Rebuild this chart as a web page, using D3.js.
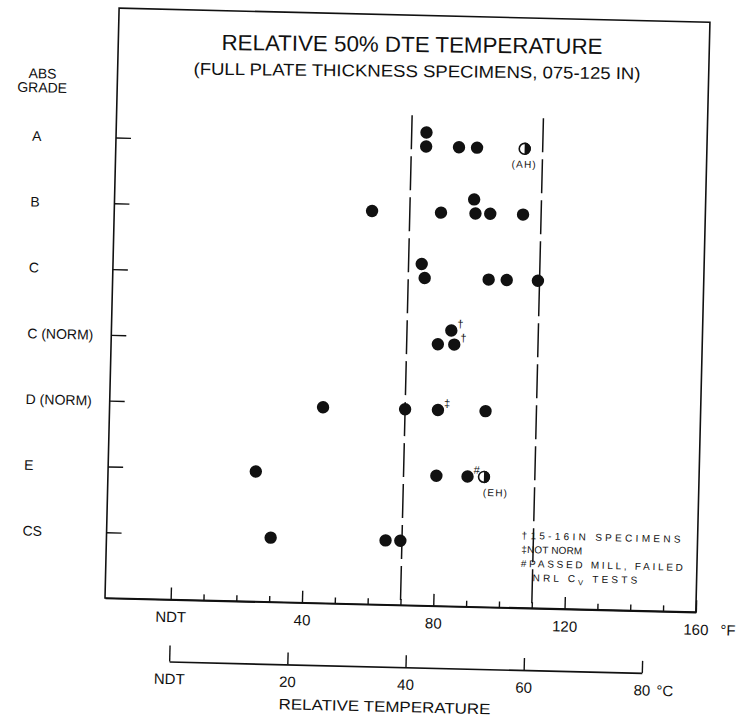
<!DOCTYPE html>
<html>
<head>
<meta charset="utf-8">
<script src="https://cdn.jsdelivr.net/npm/d3@7"></script>
<style>
  html, body { margin: 0; padding: 0; background: #fff; }
  svg { display: block; font-family: "Liberation Sans", Arial, sans-serif; }
</style>
</head>
<body>
<svg id="chart" width="740" height="719"></svg>
<script>
// ---- data ----
const grades = ["A", "B", "C", "C (NORM)", "D (NORM)", "E", "CS"];

const fMajorTicks = [0, 40, 80, 120, 160];
const fMajorLabels = ["NDT", "40", "80", "120", "160"];
const fMinorTicks = [10, 20, 30, 50, 60, 70, 90, 100, 110, 130, 140, 150];
const cTicks = [0, 20, 40, 60, 80];
const cTickLabels = ["NDT", "20", "40", "60", "80"];
const bandLimitsF = [70, 110];

// one entry per specimen: grade, relative 50% DTE temperature (°F above NDT),
// marker type and footnote symbol
const pointGrade = [
  "A", "A", "A", "A", "A",
  "B", "B", "B", "B", "B", "B",
  "C", "C", "C", "C", "C",
  "C (NORM)", "C (NORM)", "C (NORM)",
  "D (NORM)", "D (NORM)", "D (NORM)", "D (NORM)",
  "E", "E", "E", "E",
  "CS", "CS", "CS"
];
const pointTempF = [
  74.5, 84.5, 90, 104.5, 74.5,
  58.5, 79.5, 90, 94.5, 104.5, 89.5,
  75, 94.5, 100, 109.5, 74,
  79.5, 84.5, 83.5,
  45, 70, 80, 94.5,
  25, 80, 89.5, 94.5,
  30, 65, 69.5
];
const pointKind = [
  "solid", "solid", "solid", "half", "solid",
  "solid", "solid", "solid", "solid", "solid", "solid",
  "solid", "solid", "solid", "solid", "solid",
  "solid", "solid", "solid",
  "solid", "solid", "solid", "solid",
  "solid", "solid", "solid", "half",
  "solid", "solid", "solid"
];
const pointNote = [
  "", "", "", "(AH)", "",
  "", "", "", "", "", "",
  "", "", "", "", "",
  "", "\u2020", "\u2020",
  "", "", "\u2021", "",
  "", "", "#", "(EH)",
  "", "", ""
];

const footnoteLines = [
  "\u202015-16IN SPECIMENS",
  "\u2021NOT NORM",
  "#PASSED MILL, FAILED"
];

// ---- drawing ----
const svg = d3.select("#chart");
const W = 591, H = 590;

// the whole plate sits slightly turned, as on the original sheet
const g = svg.append("g")
  .attr("transform", "translate(105,598) rotate(1.37) translate(0,-590)");

const x = d3.scaleLinear().domain([-20, 160]).range([0, W]);
const y = d3.scalePoint().domain(grades).range([129.4, 524.2]);
const xc = d3.scaleLinear().domain([0, 80]).range([x(0), x(80 * 9 / 5)]);

const ink = "#111";

// frame
g.append("rect")
  .attr("x", 0).attr("y", 0).attr("width", W).attr("height", H)
  .attr("fill", "none").attr("stroke", ink).attr("stroke-width", 1.6);

// °F axis (ticks pointing into the plot)
const fAxis = g.append("g").attr("transform", `translate(0,${H})`)
  .call(d3.axisBottom(x).tickValues(fMajorTicks).tickSizeInner(-12).tickSizeOuter(0)
    .tickPadding(12).tickFormat((d, i) => fMajorLabels[i]));
const fMinor = g.append("g").attr("transform", `translate(0,${H})`)
  .call(d3.axisBottom(x).tickValues(fMinorTicks).tickSizeInner(-6).tickSizeOuter(0).tickFormat(""));
fMinor.select(".domain").remove();
[fAxis, fMinor].forEach(a => {
  a.select(".domain").attr("stroke", ink).attr("stroke-width", 1.6);
  a.selectAll(".tick line").attr("stroke", ink).attr("stroke-width", 1.4);
});
fAxis.selectAll(".tick text")
  .attr("font-size", 15).attr("fill", ink).attr("font-family", "Liberation Sans, Arial, sans-serif");
g.append("text")
  .attr("x", x(160) + 25).attr("y", H + 12 + 15 * 0.71)
  .attr("font-size", 15).attr("fill", ink).text("\u00B0F");

// °C axis
const cAxis = g.append("g").attr("transform", `translate(0,${H + 62})`)
  .call(d3.axisBottom(xc).tickValues(cTicks).tickSizeInner(-12).tickSizeOuter(0)
    .tickPadding(12).tickFormat((d, i) => cTickLabels[i]));
cAxis.select(".domain").attr("stroke", ink).attr("stroke-width", 1.6);
cAxis.selectAll(".tick line").attr("stroke", ink).attr("stroke-width", 1.4)
  .attr("y2", d => d === 0 ? -16 : -12);
cAxis.selectAll(".tick text")
  .attr("font-size", 15).attr("fill", ink).attr("font-family", "Liberation Sans, Arial, sans-serif");
g.append("text")
  .attr("x", xc(80) + 15).attr("y", H + 62 + 12 + 15 * 0.71)
  .attr("font-size", 15).attr("fill", ink).text("\u00B0C");
g.append("text")
  .attr("x", (xc(0) + xc(80)) / 2 - 20).attr("y", H + 107)
  .attr("text-anchor", "middle").attr("font-size", 15).attr("fill", ink)
  .attr("textLength", 212).attr("lengthAdjust", "spacingAndGlyphs")
  .text("RELATIVE TEMPERATURE");

// grade axis: short ticks inside the left border, labels on the far left
const gAxis = g.append("g")
  .call(d3.axisLeft(y).tickSizeInner(-15).tickSizeOuter(0).tickPadding(0));
gAxis.select(".domain").remove();
gAxis.selectAll(".tick line").attr("stroke", ink).attr("stroke-width", 1.4);
gAxis.selectAll(".tick text")
  .attr("x", -84).attr("dy", "0.34em").attr("text-anchor", "start")
  .attr("font-size", 14).attr("fill", ink).attr("font-family", "Liberation Sans, Arial, sans-serif");

g.append("text").attr("x", -75).attr("y", 72)
  .attr("text-anchor", "middle").attr("font-size", 14).attr("fill", ink).text("ABS");
g.append("text").attr("x", -75).attr("y", 86)
  .attr("text-anchor", "middle").attr("font-size", 14).attr("fill", ink).text("GRADE");

// dashed band limits
g.selectAll("line.band").data(bandLimitsF).join("line")
  .attr("class", "band")
  .attr("x1", d => x(d)).attr("x2", d => x(d))
  .attr("y1", 100).attr("y2", H)
  .attr("stroke", ink).attr("stroke-width", 1.5)
  .attr("stroke-dasharray", "34,7");

// points; a specimen that repeats an earlier value in the same grade is lifted one tier
const pts = pointTempF.map((t, i) => ({
  grade: pointGrade[i], t, kind: pointKind[i], note: pointNote[i], tier: 0
}));
pts.forEach((p, i) => {
  const clash = pts.slice(0, i).filter(q => q.grade === p.grade && Math.abs(q.t - p.t) < 2);
  if (clash.length) p.tier = d3.max(clash, q => q.tier) + 1;
});
const r = 6.2;
const px = p => x(p.t);
const py = p => y(p.grade) + 1.5 - p.tier * 14;

const dots = g.append("g");
dots.selectAll("circle.solid").data(pts.filter(p => p.kind === "solid")).join("circle")
  .attr("class", "solid")
  .attr("cx", px).attr("cy", py).attr("r", r).attr("fill", ink);

const halfArc = d3.arc().innerRadius(0).outerRadius(r).startAngle(0).endAngle(Math.PI);
const halves = dots.selectAll("g.half").data(pts.filter(p => p.kind === "half")).join("g")
  .attr("class", "half")
  .attr("transform", p => `translate(${px(p)},${py(p)})`);
halves.append("circle").attr("r", r - 0.8).attr("fill", "#fff")
  .attr("stroke", ink).attr("stroke-width", 1.6);
halves.append("path").attr("d", halfArc()).attr("fill", ink);

// footnote symbols beside dots, parenthetical tags below
const noteNudge = { "(AH)": 0, "(EH)": 12 };
g.selectAll("text.mark").data(pts.filter(p => p.note && !p.note.startsWith("("))).join("text")
  .attr("class", "mark")
  .attr("x", p => px(p) + 9).attr("y", p => py(p) - 3)
  .attr("text-anchor", "middle").attr("font-size", 11).attr("fill", ink)
  .text(p => p.note);
g.selectAll("text.tag").data(pts.filter(p => p.note.startsWith("("))).join("text")
  .attr("class", "tag")
  .attr("x", p => px(p) + noteNudge[p.note]).attr("y", p => py(p) + 19)
  .attr("text-anchor", "middle").attr("font-size", 10).attr("letter-spacing", 1.2)
  .attr("fill", ink)
  .text(p => p.note);

// footnote key
const key = g.append("g").attr("transform", "translate(415,521)");
const keyWidths = [159, 61, 162];
footnoteLines.forEach((line, i) => {
  key.append("text").attr("x", 0).attr("y", i * 14)
    .attr("font-size", 10).attr("fill", ink)
    .attr("textLength", keyWidths[i]).attr("lengthAdjust", "spacing")
    .text(line);
});
const last = key.append("text").attr("x", 12).attr("y", 3 * 14)
  .attr("font-size", 10).attr("fill", ink).attr("letter-spacing", 3.2);
last.append("tspan").text("NRL C");
last.append("tspan").attr("font-size", 7.5).attr("dy", 3).text("V");
last.append("tspan").attr("dy", -3).text(" TESTS");

// titles
svg.append("text")
  .attr("x", 412).attr("y", 52)
  .attr("transform", "rotate(0.6,412,45)")
  .attr("text-anchor", "middle").attr("font-size", 22).attr("fill", ink)
  .attr("textLength", 381).attr("lengthAdjust", "spacingAndGlyphs")
  .text("RELATIVE 50% DTE TEMPERATURE");
svg.append("text")
  .attr("x", 417).attr("y", 77)
  .attr("transform", "rotate(0.6,417,71)")
  .attr("text-anchor", "middle").attr("font-size", 17).attr("fill", ink)
  .attr("textLength", 447).attr("lengthAdjust", "spacingAndGlyphs")
  .text("(FULL PLATE THICKNESS SPECIMENS, 075-125 IN)");
</script>
</body>
</html>
